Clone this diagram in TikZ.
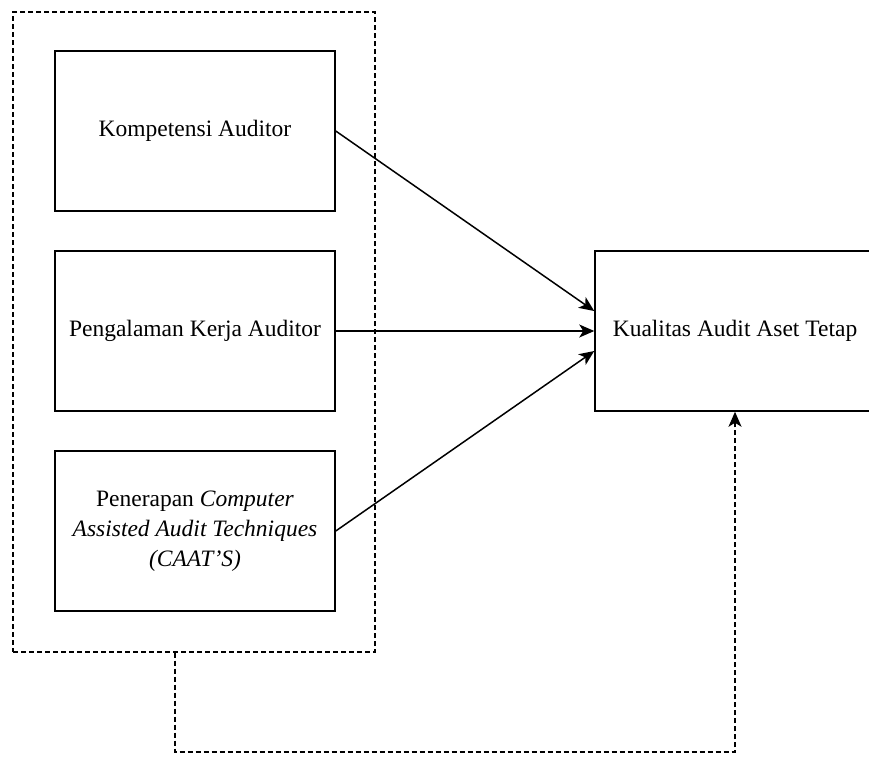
\documentclass[tikz,border=0pt]{standalone}
\usepackage{fontspec}
\setmainfont{Liberation Serif}
\usetikzlibrary{arrows.meta,calc}
\begin{document}
\begin{tikzpicture}[x=1pt,y=-1pt,
  box/.style={draw=black,line width=1.5pt,minimum width=280pt,minimum height=160pt,inner sep=0pt,align=center,
    font=\fontsize{23.5pt}{30pt}\selectfont},
  grp/.style={draw=black,line width=1.3pt,dash pattern=on 5pt off 3pt,minimum width=362pt,minimum height=640pt,inner sep=0pt},
  arr/.style={line width=1.5pt,-{Stealth[length=15pt,width=13pt,inset=4pt]}},
  darr/.style={line width=1.3pt,dash pattern=on 5pt off 3pt,-{Stealth[length=15pt,width=13pt,inset=4pt]}}
]
\useasboundingbox (0,0) rectangle (869,756);
\clip (0,0) rectangle (869,756);
\node[grp] (group) at (194,332) {};
\node[box] (komp) at (195,131) {Kompetensi Auditor};
\node[box] (peng) at (195,331) {Pengalaman Kerja Auditor};
\node[box] (caat) at (195,531) {Penerapan \textit{Computer}\\\textit{Assisted Audit Techniques}\\\textit{(CAAT'S)}};
\node[box] (kual) at (735,331) {Kualitas Audit Aset Tetap};
\draw[arr] (komp.east) -- ([yshift=20pt]kual.west);
\draw[arr] (peng.east) -- (kual.west);
\draw[arr] (caat.east) -- ([yshift=-20pt]kual.west);
\coordinate (gstart) at ([xshift=-19pt]group.south);
\coordinate (bend) at (735,752);
\draw[darr] (gstart) |- (bend) -- (kual.south);
\end{tikzpicture}
\end{document}
